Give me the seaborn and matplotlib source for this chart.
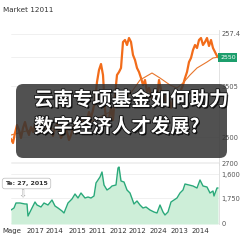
import matplotlib
matplotlib.use("Agg")
import matplotlib.pyplot as plt
import seaborn as sns
import pandas as pd
import numpy as np
from matplotlib.patches import FancyBboxPatch
import matplotlib.patheffects as pe

# ---------------- data ----------------
price_x = list(range(11, 220, 2))
price_y = [26, 22, 32, 40, 35, 27, 37, 43, 35, 30, 38, 33, 41, 45, 37, 32, 39, 43, 47, 39,
           34, 29, 37, 41, 35, 27, 31, 37, 33, 25, 30, 37, 41, 35, 39, 47, 43, 37, 45, 53,
           47, 55, 65, 83, 95, 101, 90, 55, 40, 47, 57, 45, 70, 90, 93, 97, 123, 125, 120, 127,
           123, 110, 105, 97, 93, 87, 80, 85, 73, 77, 70, 65, 73, 67, 85, 75, 63, 69, 60, 67,
           57, 65, 61, 69, 65, 75, 80, 87, 93, 103, 107, 115, 120, 117, 125, 127, 120, 123, 127, 119,
           125, 117, 113, 109, 107]
ma_x = [11, 30, 50, 70, 90, 110, 125, 133, 140, 152, 160, 170, 177, 183, 190, 197, 207, 213, 219]
ma_y = [30, 35, 37, 35, 43, 53, 65, 75, 85, 92, 87, 80, 77, 82, 90, 97, 103, 107, 108]
price_ticks = [131, 108, 79, 28, 3]
price_labels = ["257.4", "2550", "3505", "2500", ""]

vol_x = [11, 14, 16, 20, 25, 27, 28, 31, 35, 37, 41, 44, 48, 52, 55, 58, 62, 64, 68, 72,
         75, 78, 81, 85, 88, 91, 94, 96, 100, 102, 104, 107, 110, 112, 116, 118, 119, 121, 124, 127,
         130, 134, 137, 140, 143, 146, 150, 154, 157, 160, 163, 165, 168, 171, 174, 177, 180, 183, 185, 189,
         193, 197, 200, 203, 207, 210, 213, 214, 217, 218]
vol_y = [14, 16, 21, 21, 20, 20, 8, 14, 22, 19, 17, 21, 19, 24, 18, 16, 13, 11, 21, 25,
         30, 26, 31, 26, 27, 26, 28, 41, 47, 52, 39, 34, 36, 38, 39, 56, 57, 43, 42, 34,
         31, 20, 23, 19, 16, 17, 14, 12, 11, 19, 12, 9, 12, 22, 24, 26, 31, 34, 40, 39,
         38, 36, 44, 38, 37, 31, 33, 28, 36, 36]
vol_ticks = [61, 50, 26, 1]
vol_labels = ["2700", "1,600", "1,750", "0"]
x_tick_pos = [12, 35, 54, 77, 97, 118, 137, 158, 179, 200]
x_tick_labels = ["Mage", "2017", "2014", "2015", "2011", "2012", "2012", "2024", "2013", "2014"]

title_text = "Market 12011"
headline = ["云南专项基金如何助力", "数字经济人才发展?"]
tooltip = "Te: 27, 2015"
last_label = "2550"

# ---------------- style ----------------
sns.set_theme(style="white")
plt.rcParams['font.family'] = ['DejaVu Sans', 'Noto Sans CJK SC']

W = 243.0
def fx(p): return p / W
def fy(p): return 1 - p / W

fig = plt.figure(figsize=(2.43, 2.43), dpi=100)
fig.patch.set_facecolor("white")

# top price axes
ax = fig.add_axes([fx(11), fy(165), fx(219) - fx(11), (165 - 30) / W])
df_p = pd.DataFrame({"x": price_x, "y": price_y})
df_m = pd.DataFrame({"x": ma_x, "y": ma_y})
sns.lineplot(data=df_p, x="x", y="y", ax=ax, color="#f26c1a", linewidth=1.6)
sns.lineplot(data=df_m, x="x", y="y", ax=ax, color="#e8762c", linewidth=0.8)
ax.set_xlim(11, 219)
ax.set_ylim(0, 135)
ax.yaxis.tick_right()
ax.set_yticks(price_ticks)
ax.set_yticklabels([l if l != last_label else "" for l in price_labels])
ax.tick_params(axis="y", labelsize=4.8, colors="#555555", length=0, pad=2)
ax.set_xticks([])
ax.set_xlabel("")
ax.set_ylabel("")
for s in ["top", "left", "bottom"]:
    ax.spines[s].set_visible(False)
ax.spines["right"].set_color("#dddddd")
ax.spines["right"].set_linewidth(0.6)
ax.grid(axis="y", color="#eeeeee", linewidth=0.6)
ax.set_facecolor("none")

# bottom volume axes
ax2 = fig.add_axes([fx(11), fy(224), fx(219) - fx(11), (224 - 163) / W])
df_v = pd.DataFrame({"x": vol_x, "y": vol_y})
ax2.fill_between(df_v["x"], 0, df_v["y"], color="#cdeed8", linewidth=0)
sns.lineplot(data=df_v, x="x", y="y", ax=ax2, color="#2aa97a", linewidth=1.0)
ax2.set_xlim(11, 219)
ax2.set_ylim(0, 61)
ax2.yaxis.tick_right()
ax2.set_yticks(vol_ticks)
ax2.set_yticklabels(vol_labels)
ax2.tick_params(axis="y", labelsize=4.8, colors="#555555", length=0, pad=2)
ax2.set_xticks(x_tick_pos)
ax2.set_xticklabels(x_tick_labels)
ax2.tick_params(axis="x", labelsize=5, colors="#333333", length=0, pad=3)
ax2.set_xlabel("")
ax2.set_ylabel("")
for s in ["top", "left", "bottom"]:
    ax2.spines[s].set_visible(False)
ax2.spines["right"].set_color("#dddddd")
ax2.spines["right"].set_linewidth(0.6)
ax2.grid(axis="y", color="#eeeeee", linewidth=0.6)
ax2.set_facecolor("none")

# title
fig.text(fx(3), fy(10), title_text, fontsize=5.2, color="#333333", va="center", ha="left")

# last price label
fig.text(fx(220), fy(57.5), last_label, fontsize=4.5, color="white", va="center", ha="left",
         bbox=dict(boxstyle="square,pad=0.25", facecolor="#1c9e6c", edgecolor="none"))

# tooltip
fig.text(fx(26.5), fy(183.5), tooltip, fontsize=4.5, color="#333333", fontweight="bold",
         va="center", ha="center",
         bbox=dict(boxstyle="round,pad=0.45,rounding_size=0.4", facecolor="white", edgecolor="#bbbbbb", linewidth=0.5))
fig.text(fx(22), fy(194), "⇩", fontsize=7, color="#aaaaaa", va="center", ha="center")

# overlay
box = FancyBboxPatch((fx(16), fy(158)), fx(227) - fx(16), (158 - 84) / W,
                     boxstyle="round,pad=0,rounding_size=0.03",
                     transform=fig.transFigure, facecolor="#333333", edgecolor="none", alpha=0.85,
                     zorder=5)
fig.patches.append(box)

for i, line in enumerate(headline):
    fig.text(fx(34), fy(100 + 27 * i), line, fontsize=14, color="white", fontweight="bold",
             family=["Noto Sans CJK SC", "DejaVu Sans"], va="center", ha="left", zorder=6,
             path_effects=[pe.withSimplePatchShadow(offset=(1, -1), shadow_rgbFace="black", alpha=0.8),
                           pe.Stroke(linewidth=1.2, foreground="#111111"), pe.Normal()])

fig.savefig("out.png", dpi=100)
